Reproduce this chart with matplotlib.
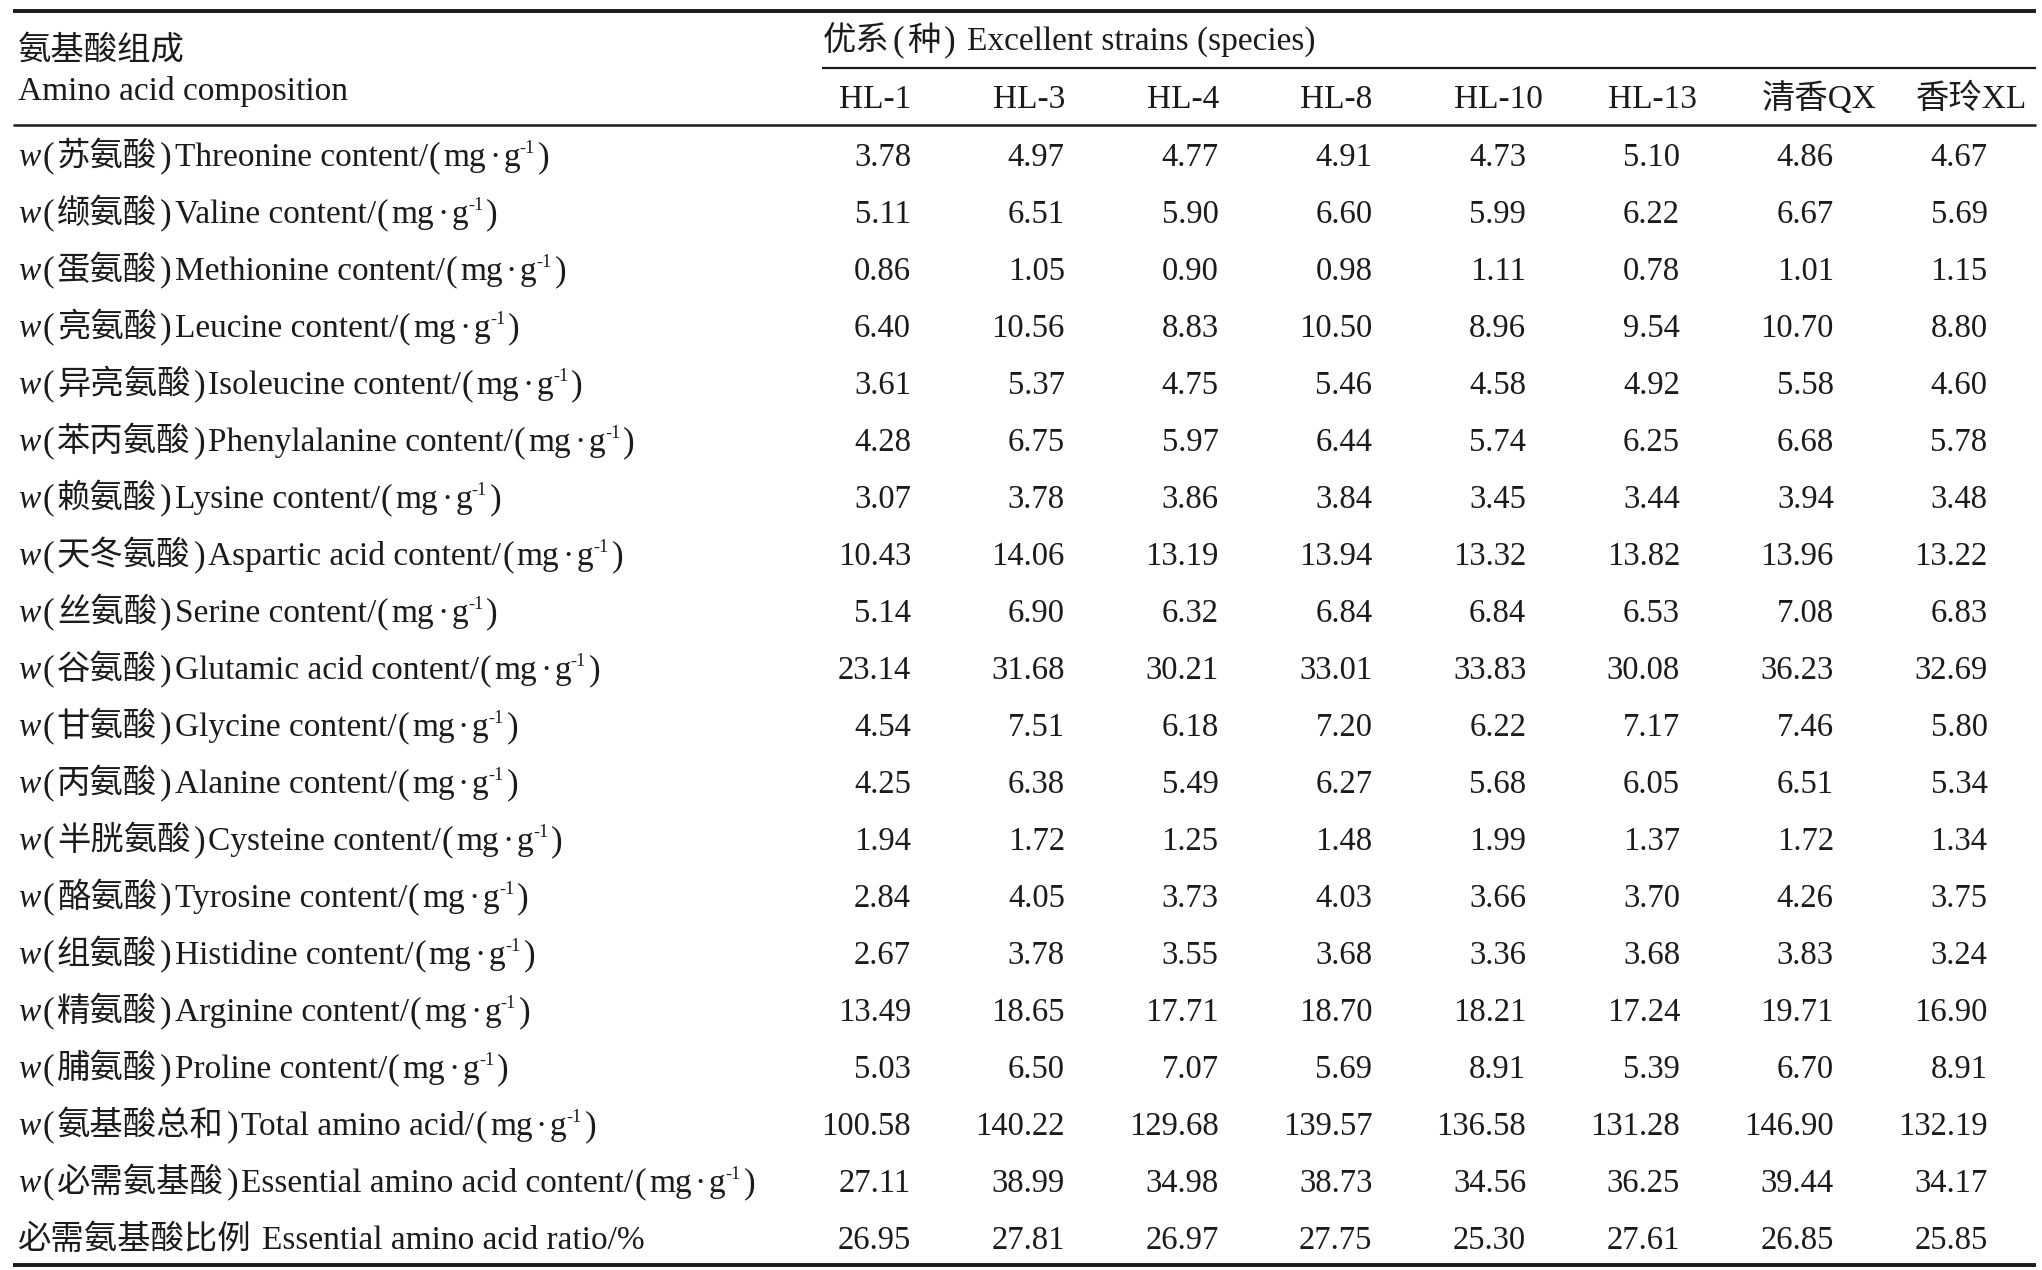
import matplotlib
matplotlib.use('Agg')
import matplotlib.pyplot as plt

strains = ['HL-1', 'HL-3', 'HL-4', 'HL-8', 'HL-10', 'HL-13', '清香QX', '香玲XL']

cn_names = ['苏氨酸', '缬氨酸', '蛋氨酸', '亮氨酸', '异亮氨酸', '苯丙氨酸', '赖氨酸',
            '天冬氨酸', '丝氨酸', '谷氨酸', '甘氨酸', '丙氨酸', '半胱氨酸', '酪氨酸',
            '组氨酸', '精氨酸', '脯氨酸', '氨基酸总和', '必需氨基酸']
en_names = ['Threonine content', 'Valine content', 'Methionine content', 'Leucine content',
            'Isoleucine content', 'Phenylalanine content', 'Lysine content',
            'Aspartic acid content', 'Serine content', 'Glutamic acid content',
            'Glycine content', 'Alanine content', 'Cysteine content', 'Tyrosine content',
            'Histidine content', 'Arginine content', 'Proline content',
            'Total amino acid', 'Essential amino acid content']
last_cn = '必需氨基酸比例'
last_en = 'Essential amino acid ratio/%'

hl1 = [3.78, 5.11, 0.86, 6.40, 3.61, 4.28, 3.07, 10.43, 5.14, 23.14, 4.54, 4.25, 1.94, 2.84, 2.67, 13.49, 5.03, 100.58, 27.11, 26.95]
hl3 = [4.97, 6.51, 1.05, 10.56, 5.37, 6.75, 3.78, 14.06, 6.90, 31.68, 7.51, 6.38, 1.72, 4.05, 3.78, 18.65, 6.50, 140.22, 38.99, 27.81]
hl4 = [4.77, 5.90, 0.90, 8.83, 4.75, 5.97, 3.86, 13.19, 6.32, 30.21, 6.18, 5.49, 1.25, 3.73, 3.55, 17.71, 7.07, 129.68, 34.98, 26.97]
hl8 = [4.91, 6.60, 0.98, 10.50, 5.46, 6.44, 3.84, 13.94, 6.84, 33.01, 7.20, 6.27, 1.48, 4.03, 3.68, 18.70, 5.69, 139.57, 38.73, 27.75]
hl10 = [4.73, 5.99, 1.11, 8.96, 4.58, 5.74, 3.45, 13.32, 6.84, 33.83, 6.22, 5.68, 1.99, 3.66, 3.36, 18.21, 8.91, 136.58, 34.56, 25.30]
hl13 = [5.10, 6.22, 0.78, 9.54, 4.92, 6.25, 3.44, 13.82, 6.53, 30.08, 7.17, 6.05, 1.37, 3.70, 3.68, 17.24, 5.39, 131.28, 36.25, 27.61]
qx = [4.86, 6.67, 1.01, 10.70, 5.58, 6.68, 3.94, 13.96, 7.08, 36.23, 7.46, 6.51, 1.72, 4.26, 3.83, 19.71, 6.70, 146.90, 39.44, 26.85]
xl = [4.67, 5.69, 1.15, 8.80, 4.60, 5.78, 3.48, 13.22, 6.83, 32.69, 5.80, 5.34, 1.34, 3.75, 3.24, 16.90, 8.91, 132.19, 34.17, 25.85]
columns = [hl1, hl3, hl4, hl8, hl10, hl13, qx, xl]

W, H = 2042, 1270
FS = 24
NUM_FS = 23.5
INK = '#1c1a1b'
FAM = ['Liberation Serif', 'Noto Sans CJK SC']

fig = plt.figure(figsize=(W / 100, H / 100), dpi=100)
ax = fig.add_axes([0, 0, 1, 1])
ax.set_xlim(0, W)
ax.set_ylim(H, 0)
ax.axis('off')
renderer = fig.canvas.get_renderer()


def put(x, y, s, **kw):
    opts = dict(fontsize=FS, family=FAM, color=INK, va='baseline')
    opts.update(kw)
    return ax.text(x, y, s, **opts)


def chain(x, y, pieces):
    # pieces: (text, gap after, extra kwargs)
    for s, gap, kw in pieces:
        kw = dict(kw)
        dy = kw.pop('dy', 0)
        t = put(x, y - dy, s, **kw)
        x += t.get_window_extent(renderer=renderer).width + gap
    return x


ITAL = dict(family='Liberation Serif', style='italic')
SUP = dict(fontsize=FS * 0.55, dy=13)
PAREN = dict(fontsize=FS * 1.05, fontweight='light')


def row_label(x, y, cn, en):
    chain(x, y, [('w', 2, ITAL), ('(', 3, PAREN), (cn, 3, {}), (')', 3, PAREN),
                 (en + '/', 1, {}), ('(', 3, PAREN), ('mg', 3, {}), ('·', 3, {}),
                 ('g', 0, {}), ('-1', 3, SUP), (')', 0, PAREN)])


# layout (pixels)
x_left = 18
col_left = [839 + 153.8 * i for i in range(len(strains))]
col_right = [911 + 153.8 * i for i in range(len(strains))]
row_base = [166 + 57.0 * i for i in range(len(hl1))]

# rules
ax.hlines(11, 13, 2036, color=INK, lw=2.8)
ax.hlines(67.5, 822, 2036, color=INK, lw=1.6)
ax.hlines(124.5, 13, 2036, color=INK, lw=1.8)
ax.hlines(1264.5, 13, 2036, color=INK, lw=2.8)

# header
put(x_left, 60, '氨基酸组成')
put(x_left, 100, 'Amino acid composition')
chain(823, 50, [('优系', 3, {}), ('(', 3, PAREN), ('种', 3, {}), (')', 12, PAREN),
                ('Excellent strains (species)', 0, {})])
for x, s in zip(col_left, strains):
    put(x, 108, s)

# body
for i, (cn, en) in enumerate(zip(cn_names, en_names)):
    row_label(x_left, row_base[i], cn, en)
chain(x_left, row_base[-1], [(last_cn, 10, {}), (last_en, 0, {})])

for x, col in zip(col_right, columns):
    for y, v in zip(row_base, col):
        put(x, y, f'{v:.2f}', ha='right', fontsize=NUM_FS)

fig.savefig('out.png', dpi=100, facecolor='white')
